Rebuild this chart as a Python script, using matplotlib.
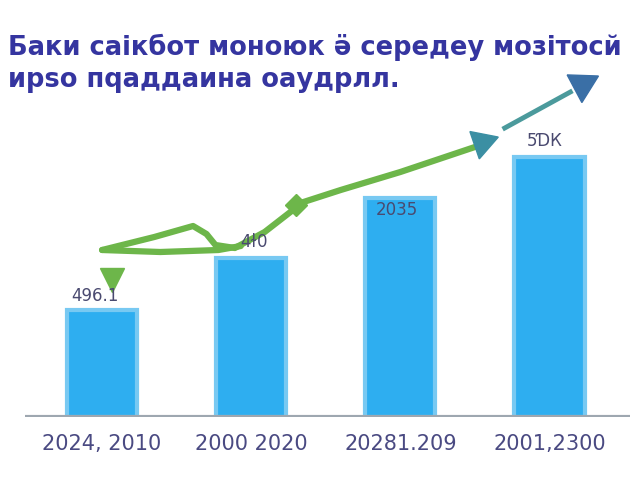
import numpy as np
import matplotlib.pyplot as plt

# данные
categories = ["2024, 2010", "2000 2020", "20281.209", "2001,2300"]
values = [107, 159, 219, 260]
value_labels = ["496.1", "4ɫ0", "2035", "5ƊК"]
title_lines = ["Баки саікбот моноюк ӛ середеу мозітосй",
               "ирѕо пqаддаина оаудрлл."]

# линия тренда (в координатах категорий и значений)
lower_x = [0.0, 0.39, 0.78, 0.93]
lower_y = [167, 165, 167, 171]
upper_x = [0.0, 0.35, 0.61, 0.70, 0.76, 0.89, 1.09, 1.28]
upper_y = [167, 180, 191, 183, 172, 169, 185, 207]
main_x = [1.33, 1.6, 2.0, 2.34, 2.54]
main_y = [214, 227, 245, 262, 272]
teal_x = [2.70, 3.14]
teal_y = [289, 325]

fig = plt.figure(figsize=(6.4, 4.8), dpi=100)
ax = fig.add_axes([25 / 640, 63 / 480, 605 / 640, 417 / 480])
ax.set_xlim(-0.517, 3.54)
ax.set_ylim(0, 417)

x = np.arange(len(categories))
ax.bar(x, values, width=0.47, color='#2eaef0', edgecolor='#78c9f2',
       linewidth=3, zorder=2)
ax.axhline(0, color='#9ea7b0', lw=3, zorder=3)

green = '#6db64a'
for xs, ys in [(lower_x, lower_y), (upper_x, upper_y), (main_x, main_y)]:
    ax.plot(xs, ys, color=green, lw=4.5, solid_capstyle='round',
            solid_joinstyle='round', zorder=4)
ax.plot(teal_x, teal_y, color='#4b9a9c', lw=3.5, zorder=4)

# маркеры и стрелки
ax.plot([0.067], [137], marker='v', ms=17, color=green, zorder=5)
ax.plot([1.30], [212], marker='D', ms=11, color=green, zorder=5)
ax.plot([2.55], [275], marker=(3, 0, -71), ms=24, color='#3b8fa3', zorder=5)
ax.plot([3.22], [333], marker=(3, 0, -62), ms=26, color='#3a6fa6', zorder=5)

# подписи значений
label_off = [(-0.05, 14), (0.02, 16), (-0.02, -12), (-0.03, 16)]
for i, ((dx, dy), t) in enumerate(zip(label_off, value_labels)):
    ax.text(i + dx, values[i] + dy, t, ha='center', va='center', fontsize=12,
            color='#4a4a70', zorder=6)

ax.set_xticks(x, categories)
ax.tick_params(axis='x', length=0, pad=12, labelsize=15, labelcolor='#4a4a82')
ax.set_yticks([])
for s in ax.spines.values():
    s.set_visible(False)

for i, line in enumerate(title_lines):
    fig.text(8 / 640, 1 - (47 + 33 * i) / 480, line, fontsize=18.5,
             fontweight='bold', color='#3535a0', va='center', ha='left')

fig.savefig('out.png', dpi=100)
